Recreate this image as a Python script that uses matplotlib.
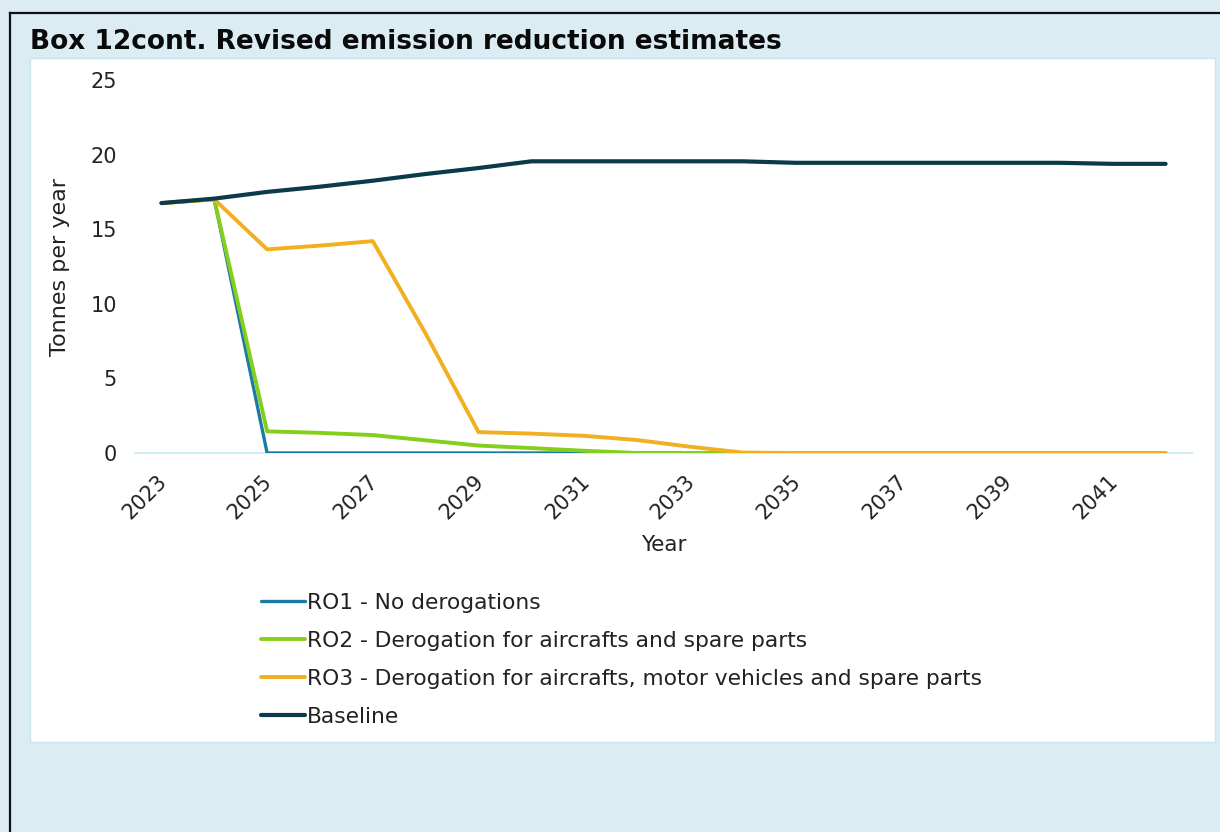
import matplotlib
matplotlib.use("Agg")
import matplotlib.pyplot as plt
from matplotlib.patches import Rectangle
from matplotlib.lines import Line2D
import matplotlib.transforms as mtransforms

plt.rcParams["font.family"] = ["DejaVu Sans"]

years = list(range(2023, 2043))
ro1 = [16.75, 17.0, 0.0, 0.0, 0.0, 0.0, 0.0, 0.0, 0.0, 0.0, 0.0, 0.0, 0.0, 0.0, 0.0, 0.0, 0.0, 0.0, 0.0, 0.0]
ro2 = [16.75, 17.0, 1.45, 1.35, 1.2, 0.85, 0.5, 0.33, 0.15, 0.0, 0.0, 0.0, 0.0, 0.0, 0.0, 0.0, 0.0, 0.0, 0.0, 0.0]
ro3 = [16.75, 17.0, 13.65, 13.9, 14.2, 8.0, 1.4, 1.3, 1.15, 0.87, 0.42, 0.03, 0.0, 0.0, 0.0, 0.0, 0.0, 0.0, 0.0, 0.0]
baseline = [16.75, 17.05, 17.5, 17.85, 18.25, 18.7, 19.1, 19.55, 19.55, 19.55, 19.55, 19.55, 19.45, 19.45, 19.45, 19.45, 19.45, 19.45, 19.38, 19.38]
labels = ["RO1 - No derogations",
          "RO2 - Derogation for aircrafts and spare parts",
          "RO3 - Derogation for aircrafts, motor vehicles and spare parts",
          "Baseline"]
colors = ["#1b7aa6", "#84cf1c", "#f0b020", "#0b3a4a"]
yticks = [0, 5, 10, 15, 20, 25]
xtick_years = list(range(2023, 2042, 2))
title = "Box 12cont. Revised emission reduction estimates"

W, H = 1220, 832
fig = plt.figure(figsize=(W / 100, H / 100), dpi=100)
fig.patch.set_facecolor("#dbedf3")

def fx(px):
    return px / W

def fy(py):
    return 1 - py / H

# white panel
panel = Rectangle((fx(30), fy(742)), fx(1215) - fx(30), fy(58) - fy(742),
                  transform=fig.transFigure, facecolor="white",
                  edgecolor="#c8e6ee", linewidth=1.0, zorder=-5)
fig.add_artist(panel)
# black border (top and left)
fig.add_artist(Line2D([fx(10), fx(1220)], [fy(13), fy(13)], transform=fig.transFigure,
                      color="#111111", linewidth=1.6))
fig.add_artist(Line2D([fx(10), fx(10)], [fy(13), fy(832)], transform=fig.transFigure,
                      color="#111111", linewidth=1.6))

fig.text(fx(30), fy(42), title, fontsize=19, fontweight="bold", color="#0a0a0a",
         va="center", ha="left")

ax = fig.add_axes([fx(135), fy(453), fx(1192) - fx(135), fy(80) - fy(453)], zorder=2)
ax.set_facecolor("none")
series = [ro1, ro2, ro3, baseline]
widths = [2.4, 2.8, 2.8, 3.0]
for s, c, lab, lw in zip(series, colors, labels, widths):
    ax.plot(years, s, color=c, linewidth=lw, label=lab, solid_capstyle="round",
            solid_joinstyle="round")

ax.set_xlim(2022.5, 2042.5)
ax.set_ylim(0, 25)
for sp in ["top", "right", "left"]:
    ax.spines[sp].set_visible(False)
ax.spines["bottom"].set_color("#d2ecf6")
ax.spines["bottom"].set_linewidth(1.5)
ax.spines["bottom"].set_zorder(0)

ax.set_yticks(yticks)
ax.set_yticklabels([str(v) for v in yticks])
ax.tick_params(axis="y", length=0, pad=13, labelsize=15, labelcolor="#222222")
ax.set_xticks(xtick_years)
ax.set_xticklabels([str(v) for v in xtick_years], rotation=45, ha="right", va="top",
                   rotation_mode="anchor")
ax.tick_params(axis="x", length=0, pad=13, labelsize=15, labelcolor="#222222")
offset = mtransforms.ScaledTranslation(-5 / 100, 0, fig.dpi_scale_trans)
for lbl in ax.get_xticklabels():
    lbl.set_transform(lbl.get_transform() + offset)

ax.set_ylabel("Tonnes per year", fontsize=16, color="#222222")
ax.yaxis.set_label_coords((70 - 135) / (1192 - 135), 0.5)
ax.set_xlabel("Year", fontsize=15.5, color="#222222", labelpad=9)

leg = fig.legend(loc="upper left", bbox_to_anchor=(fx(261), fy(593)), frameon=False,
                 fontsize=15.7, handlelength=2.0, handletextpad=0.1, labelspacing=0.82,
                 borderpad=0, borderaxespad=0)
for t in leg.get_texts():
    t.set_color("#222222")

fig.savefig("out.png", dpi=100, facecolor=fig.get_facecolor())
